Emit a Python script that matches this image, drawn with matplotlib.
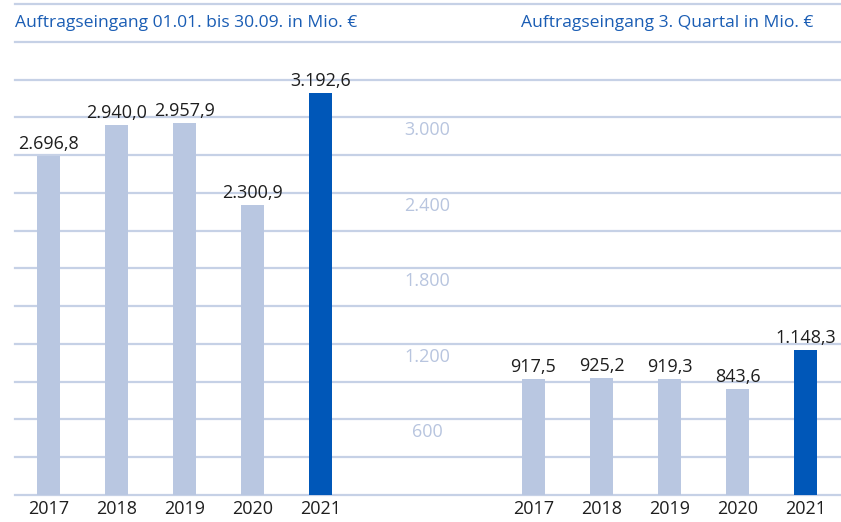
import matplotlib
matplotlib.use("Agg")
import matplotlib.pyplot as plt

years = ["2017", "2018", "2019", "2020", "2021"]
ytd_values = [2696.8, 2940.0, 2957.9, 2300.9, 3192.6]
q3_values = [917.5, 925.2, 919.3, 843.6, 1148.3]
axis_ticks = [600, 1200, 1800, 2400, 3000]
title_left = "Auftragseingang 01.01. bis 30.09. in Mio. €"
title_right = "Auftragseingang 3. Quartal in Mio. €"

LIGHT = "#B9C7E1"
DARK = "#0057B8"
GRID = "#C6D1E6"
TICKC = "#B8C5DF"
TEXTC = "#1E1E1E"
TITLEC = "#1A5DB4"

plt.rcParams['font.family'] = ['Open Sans', 'DejaVu Sans']

W, H = 841, 522
fig = plt.figure(figsize=(W / 100, H / 100), dpi=100)
ax_left_px, ax_bottom_px, ax_top_px = 15, 494.7, 4.3
ax = fig.add_axes([ax_left_px / W, (H - ax_bottom_px) / H,
                   (W - ax_left_px) / W, (ax_bottom_px - ax_top_px) / H])

unit = 68.1
right_offset = (533.5 - 48.5) / unit
left_x = [i for i in range(len(years))]
right_x = [i + right_offset for i in range(len(years))]
ax.set_xlim((15 - 48.5) / unit, (841 - 48.5) / unit)
ax.set_ylim(0, 3900)

for v in range(0, 3901, 300):
    ax.axhline(v, color=GRID, lw=1.6, zorder=0, clip_on=False)

bw = 23 / unit
cols = [LIGHT] * 4 + [DARK]
ax.bar(left_x, ytd_values, width=bw, color=cols, zorder=2)
ax.bar(right_x, q3_values, width=bw, color=cols, zorder=2)

def de(v):
    return f"{v:,.1f}".replace(",", "X").replace(".", ",").replace("X", ".")

for xs, vals in ((left_x, ytd_values), (right_x, q3_values)):
    for x, v in zip(xs, vals):
        ax.annotate(de(v), (x, v), xytext=(0, 3), textcoords='offset pixels',
                    ha='center', va='bottom', fontsize=13, color=TEXTC, zorder=3)

mid = (427 - 48.5) / unit
for t in axis_ticks:
    ax.annotate(f"{t:,}".replace(",", "."), (mid, t), xytext=(0, -13),
                textcoords='offset pixels', ha='center', va='center',
                fontsize=13, color=TICKC)

ax.set_xticks(left_x + right_x, years + years)
ax.tick_params(axis='x', length=0, pad=4, labelsize=13, labelcolor=TEXTC)
ax.set_yticks([])
for s in ax.spines.values():
    s.set_visible(False)
ax.patch.set_alpha(0)

fig.text(15 / W, 1 - 23 / H, title_left, ha='left', va='center',
         fontsize=12.6, color=TITLEC)
fig.text(667.5 / W, 1 - 23 / H, title_right, ha='center', va='center',
         fontsize=12.6, color=TITLEC)

fig.savefig("out.png", dpi=100)
